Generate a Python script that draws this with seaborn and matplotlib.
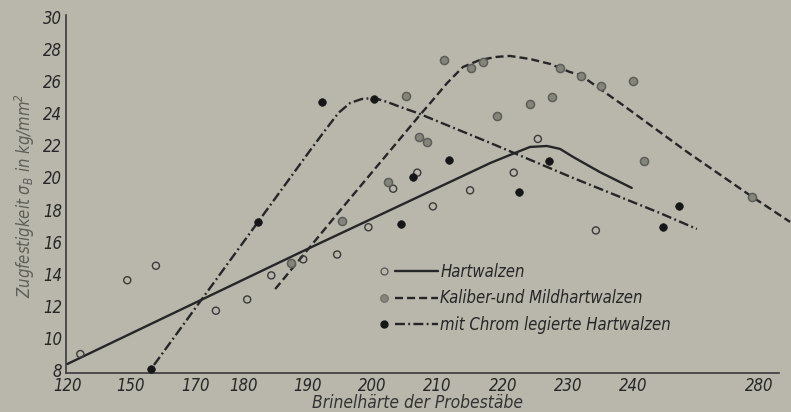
import numpy as np
import pandas as pd
import matplotlib
matplotlib.use('Agg')
import matplotlib.pyplot as plt
import seaborn as sns
from matplotlib.lines import Line2D
from matplotlib.legend_handler import HandlerBase

# Messpunkte (Brinellhärte, Zugfestigkeit)
hart_x = [155.2, 162.4, 166.8, 176.0, 180.8, 184.5, 189.4, 194.6, 199.4, 203.2,
          206.9, 209.3, 215.0, 221.7, 225.4, 234.3]
hart_y = [9.0, 13.6, 14.5, 11.7, 12.4, 13.9, 14.9, 15.2, 16.9, 19.3,
          20.3, 18.2, 19.2, 20.3, 22.4, 16.7]

kal_x = [187.5, 195.4, 202.4, 205.2, 207.2, 208.4, 211.0, 215.2, 217.0, 219.1,
         224.2, 227.6, 228.8, 232.0, 235.1, 240.0, 241.7, 258.3]
kal_y = [14.7, 17.3, 19.7, 25.1, 22.5, 22.2, 27.3, 26.8, 27.2, 23.8,
         24.6, 25.0, 26.8, 26.3, 25.7, 26.0, 21.0, 18.8]

chrom_x = [166.1, 182.5, 192.3, 200.3, 204.4, 206.3, 211.8, 222.5, 227.1, 244.6, 247.1]
chrom_y = [8.1, 17.2, 24.7, 24.9, 17.1, 20.0, 21.1, 19.1, 21.0, 16.9, 18.2]

# Ausgleichskurven
hart_line_x = [153.2, 189.4, 218.1, 221.9, 224.2, 226.8, 228.8, 230.8, 234.9, 239.8]
hart_line_y = [8.38, 15.42, 20.90, 21.53, 21.90, 21.96, 21.78, 21.28, 20.34, 19.35]

kal_line_x = [185.1, 195.5, 207.3, 208.9, 211.5, 213.9, 216.5, 219.1, 221.1, 224.2,
              227.3, 230.3, 231.9, 238.0, 248.3, 258.3, 264.1]
kal_line_y = [13.05, 18.16, 23.89, 24.64, 25.89, 26.88, 27.32, 27.51, 27.57, 27.38,
              27.07, 26.57, 26.39, 24.64, 21.59, 18.79, 17.23]

chrom_line_x = [166.5, 190.5, 192.8, 194.8, 196.6, 198.4, 200.3, 202.3, 204.3, 206.9,
                218.1, 230.8, 244.1, 249.8]
chrom_line_y = [8.32, 21.71, 22.96, 24.02, 24.64, 24.89, 24.95, 24.70, 24.39, 24.02,
                22.15, 19.97, 17.79, 16.79]

# Achsenbeschriftung wie im Original (ungleichmäßig)
xtick_pos = [153.3, 162.9, 172.8, 180.3, 190, 200, 210, 220.1, 230, 240, 259.3]
xtick_labels = ['120', '150', '170', '180', '190', '200', '210', '220', '230', '240', '280']
yticks = list(range(8, 31, 2))

labels = ['Hartwalzen', 'Kaliber-und Mildhartwalzen', 'mit Chrom legierte Hartwalzen']

bg = '#b9b7ab'
ink = '#262626'

sns.set_theme(style='white', rc={'axes.facecolor': bg, 'figure.facecolor': bg})
plt.rcParams['font.family'] = ['Liberation Sans Narrow', 'DejaVu Sans']
plt.rcParams['font.style'] = 'italic'
plt.rcParams['font.stretch'] = 'condensed'
plt.rcParams['mathtext.default'] = 'regular'


class MarkerLineHandler(HandlerBase):
    # Marker links, Linienstück rechts daneben
    def create_artists(self, legend, orig_handle, xdescent, ydescent, width, height, fontsize, trans):
        mark, line = orig_handle
        y = height / 2 - ydescent
        m = Line2D([-xdescent + 0.1 * width], [y])
        m.update_from(mark)
        m.set_transform(trans)
        ln = Line2D([-xdescent + 0.29 * width, -xdescent + width], [y, y])
        ln.update_from(line)
        ln.set_transform(trans)
        return [m, ln]


fig, ax = plt.subplots(figsize=(7.91, 4.12), dpi=100)
ax.set_position([66 / 791, 1 - 373 / 412, (779 - 66) / 791, (373 - 15) / 412])

lw = 1.7
dash = (0, (3.4, 1.7))
dashdot = (0, (4.2, 1.4, 0.8, 1.4))

sns.lineplot(x=hart_line_x, y=hart_line_y, sort=False, estimator=None, color=ink,
             lw=lw, ax=ax, clip_on=False)
sns.lineplot(x=kal_line_x, y=kal_line_y, sort=False, estimator=None, color=ink,
             lw=lw, linestyle=dash, ax=ax, clip_on=False)
sns.lineplot(x=chrom_line_x, y=chrom_line_y, sort=False, estimator=None, color=ink,
             lw=lw, linestyle=dashdot, ax=ax, clip_on=False)

sns.scatterplot(x=hart_x, y=hart_y, marker='o', s=26, facecolor='none',
                edgecolor='#3a3a3a', linewidth=1.0, ax=ax, zorder=3)
sns.scatterplot(x=kal_x, y=kal_y, marker='o', s=34, color='#85857c',
                edgecolor='#5e5e58', linewidth=1.1, ax=ax, zorder=3)
sns.scatterplot(x=chrom_x, y=chrom_y, marker='o', s=30, color='#161616',
                edgecolor='#161616', linewidth=0.5, ax=ax, zorder=3)

ax.set_xlim(153.0, 262.4)
ax.set_ylim(7.82, 30.12)
ax.set_xticks(xtick_pos)
ax.set_xticklabels(xtick_labels)
ax.set_yticks(yticks)
ax.set_yticklabels([str(v) for v in yticks])

for side in ['top', 'right']:
    ax.spines[side].set_visible(False)
for side in ['left', 'bottom']:
    ax.spines[side].set_color('#3a3a3a')
    ax.spines[side].set_linewidth(1.2)

ax.tick_params(axis='y', direction='in', length=8.5, width=1.1, color='#3a3a3a',
               pad=3, labelsize=12, labelcolor=ink)
ax.tick_params(axis='x', direction='in', length=6, width=1.0, color='#3a3a3a',
               pad=3, labelsize=12, labelcolor=ink)

ax.set_xlabel('Brinelhärte der Probestäbe', fontsize=12.5, color='#333333', labelpad=0)
ax.xaxis.set_label_coords((417 - 66) / (779 - 66), -0.058)
ax.set_ylabel(r'Zugfestigkeit $\sigma_B$ in kg/mm$^2$', fontsize=12, color='#5e5e5a')
ax.yaxis.set_label_coords(-0.041, (373 - 196) / (373 - 15))

# Legende
handles = [
    (Line2D([], [], ls='none', marker='o', ms=5, mfc='none', mec='#555555', mew=0.9),
     Line2D([], [], color=ink, lw=lw)),
    (Line2D([], [], ls='none', marker='o', ms=5.5, mfc='#85857c', mec='#6e6e68', mew=0.8),
     Line2D([], [], color=ink, lw=lw, linestyle=dash)),
    (Line2D([], [], ls='none', marker='o', ms=5, mfc='#161616', mec='#161616'),
     Line2D([], [], color=ink, lw=lw, linestyle=dashdot)),
]
leg = ax.legend(handles, labels, handler_map={tuple: MarkerLineHandler()},
                loc='upper left', bbox_to_anchor=(378 / 791, 1 - 263 / 412),
                bbox_transform=fig.transFigure, frameon=False, fontsize=12,
                handlelength=3.6, handletextpad=0.15, labelspacing=0.5,
                borderpad=0, borderaxespad=0)
for t in leg.get_texts():
    t.set_color(ink)

plt.savefig('out.png', dpi=100, facecolor=bg)
